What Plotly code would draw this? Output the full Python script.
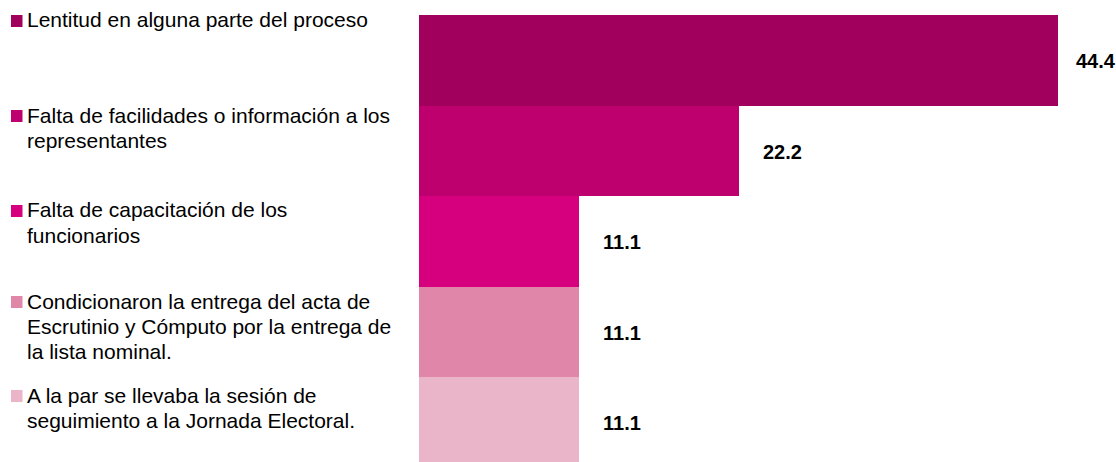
import plotly.graph_objects as go

# Data
categories = [
    "Lentitud en alguna parte del proceso",
    "Falta de facilidades o información a los<br>representantes",
    "Falta de capacitación de los<br>funcionarios",
    "Condicionaron la entrega del acta de<br>Escrutinio y Cómputo por la entrega de<br>la lista nominal.",
    "A la par se llevaba la sesión de<br>seguimiento a la Jornada Electoral.",
]
values = [44.4, 22.2, 11.1, 11.1, 11.1]
colors = ["#A2005D", "#BE006E", "#D6007F", "#E086A8", "#EAB5C9"]

# Layout constants (pixels)
W, H = 1116, 462
ML, MT = 419, 15
PLOT_W, PLOT_H = W - ML, H - MT
BAR_PX = 90.5
PX_PER_UNIT = 14.4
legend_center_px = [21, 116, 211, 302, 396]
line_pitch_px = 25
label_shift_px = [16, 22, 22, 22, 22]

FONT = "Liberation Sans, Arial, sans-serif"
idx = list(range(len(values)))

fig = go.Figure(
    go.Bar(
        x=values,
        y=idx,
        orientation="h",
        marker=dict(color=colors, line=dict(width=0)),
        hoverinfo="skip",
    )
)


def px_x(px):
    return (px - ML) / PLOT_W


def px_y(py):
    return 1 - (py - MT) / PLOT_H


annotations = []
shapes = []
for i, (cat, val, col) in enumerate(zip(categories, values, colors)):
    # value label to the right of each bar
    annotations.append(
        dict(
            x=val, y=i, xref="x", yref="y",
            text=f"<b>{val:.1f}</b>",
            xanchor="left", yanchor="middle",
            xshift=label_shift_px[i], yshift=-1,
            showarrow=False,
            font=dict(family=FONT, size=20, color="#000000"),
        )
    )
    # legend text, one annotation per line
    cy = legend_center_px[i]
    for k, line in enumerate(cat.split("<br>")):
        annotations.append(
            dict(
                x=px_x(25), y=px_y(cy + k * line_pitch_px - 1),
                xref="paper", yref="paper",
                text=line, align="left",
                xanchor="left", yanchor="middle",
                showarrow=False,
                font=dict(family=FONT, size=21, color="#000000"),
            )
        )
    # legend swatch
    shapes.append(
        dict(
            type="rect", xref="paper", yref="paper",
            x0=px_x(11), x1=px_x(22.5), y0=px_y(cy - 6), y1=px_y(cy + 6),
            fillcolor=col, line=dict(width=0),
        )
    )

fig.update_layout(
    width=W, height=H,
    margin=dict(l=ML, r=0, t=MT, b=0, pad=0),
    paper_bgcolor="#FFFFFF",
    plot_bgcolor="#FFFFFF",
    bargap=0,
    showlegend=False,
    annotations=annotations,
    shapes=shapes,
    xaxis=dict(
        range=[0, PLOT_W / PX_PER_UNIT],
        visible=False, showgrid=False, zeroline=False, fixedrange=True,
    ),
    yaxis=dict(
        range=[-0.5 + PLOT_H / BAR_PX, -0.5],
        visible=False, showgrid=False, zeroline=False, fixedrange=True,
    ),
)

fig.write_html("out.html", config={"displayModeBar": False})
